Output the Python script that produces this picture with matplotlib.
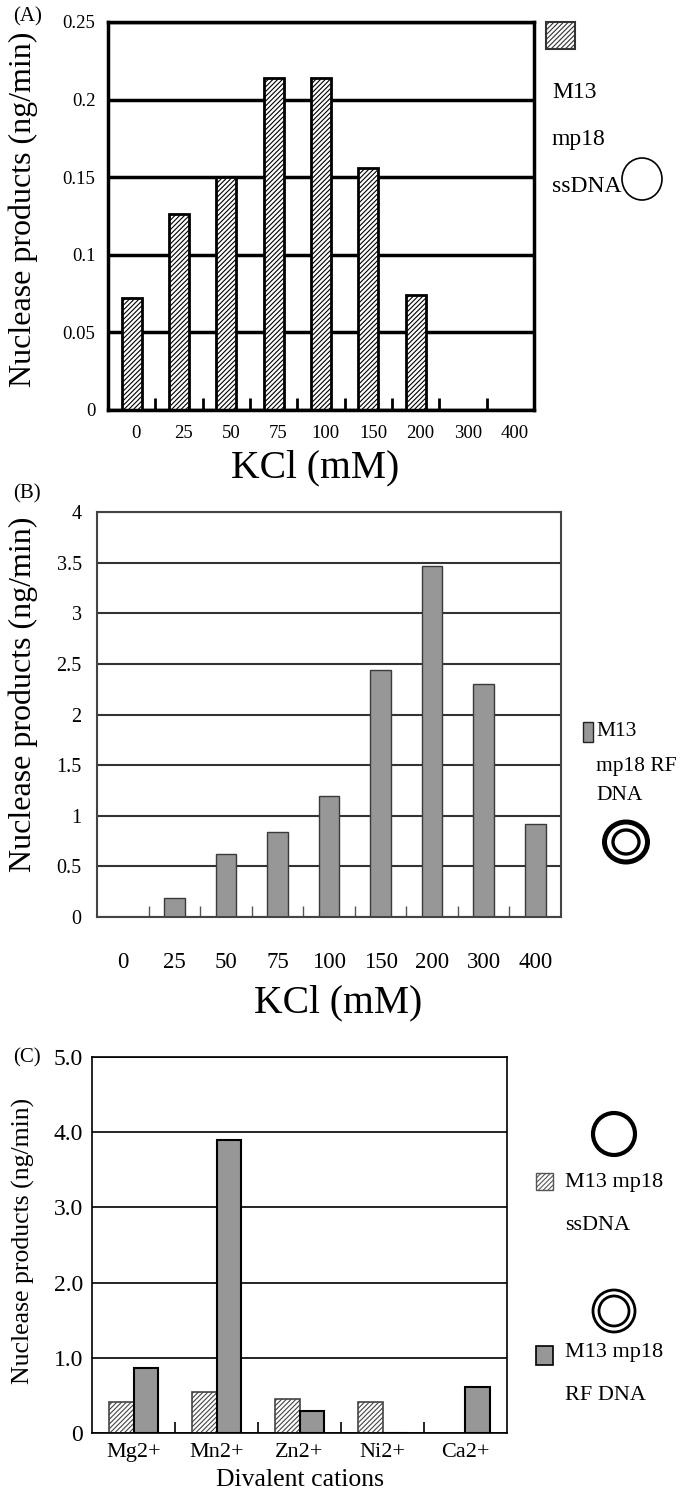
import numpy as np
import matplotlib
matplotlib.use("Agg")
import matplotlib.pyplot as plt
from matplotlib.patches import Rectangle, Ellipse

plt.rcParams['font.family'] = ['Liberation Serif', 'DejaVu Serif']
plt.rcParams['hatch.linewidth'] = 0.8

# data
kcl_labels = ['0', '25', '50', '75', '100', '150', '200', '300', '400']
ss_kcl = [0.072, 0.126, 0.150, 0.214, 0.214, 0.156, 0.074, 0.0, 0.0]
rf_kcl = [0.0, 0.19, 0.62, 0.84, 1.20, 2.44, 3.47, 2.30, 0.92]

cations = ['Mg2+', 'Mn2+', 'Zn2+', 'Ni2+', 'Ca2+']
ss_cat = [0.41, 0.55, 0.45, 0.41, 0.0]
rf_cat = [0.86, 3.90, 0.29, 0.0, 0.61]

W, H = 682, 1491
fig = plt.figure(figsize=(W / 100, H / 100), dpi=100)


def axes_px(left, top, right, bottom):
    return fig.add_axes([left / W, 1 - bottom / H, (right - left) / W, (bottom - top) / H])


def category_ticks(ax, n, length, width, color):
    ax.set_xlim(-0.5, n - 0.5)
    ax.set_xticks(np.arange(0.5, n - 1, 1))
    ax.set_xticklabels([])
    ax.tick_params(axis='x', which='major', direction='in', length=length, width=width,
                   color=color, top=False)
    ax.tick_params(axis='y', length=0)


# ---------- (A) ----------
axA = axes_px(108, 22, 534, 410)
x = np.arange(len(kcl_labels))
axA.bar(x, ss_kcl, width=0.42, color='white', edgecolor='black', linewidth=2, hatch='///////')
axA.set_ylim(0, 0.25)
axA.set_yticks([0, 0.05, 0.1, 0.15, 0.2, 0.25])
axA.set_yticklabels(['0', '0.05', '0.1', '0.15', '0.2', '0.25'], fontsize=13.5)
axA.set_axisbelow(True)
axA.yaxis.grid(True, color='black', linewidth=2.5)
category_ticks(axA, len(kcl_labels), 9, 2, 'black')
axA.set_xticks(x + 0.1, minor=True)
axA.set_xticklabels(kcl_labels, minor=True, fontsize=13.5)
axA.tick_params(axis='x', which='minor', length=0, pad=11)
axA.tick_params(axis='y', pad=9)
for s in axA.spines.values():
    s.set_linewidth(2.5)
axA.set_xlabel('KCl (mM)', fontsize=28.5, va='center')
axA.xaxis.set_label_coords(0.486, -0.149)
axA.set_ylabel('Nuclease products (ng/min)', fontsize=23, va='center')
axA.yaxis.set_label_coords(-0.20, 0.518)

# ---------- (B) ----------
axB = axes_px(97, 512, 561, 917)
axB.bar(x, rf_kcl, width=0.40, color='#979797', edgecolor='#3a3a3a', linewidth=1.0)
axB.set_ylim(0, 4)
axB.set_yticks(np.arange(0, 4.01, 0.5))
axB.set_yticklabels(['0', '0.5', '1', '1.5', '2', '2.5', '3', '3.5', '4'], fontsize=14.5)
axB.set_axisbelow(True)
axB.yaxis.grid(True, color='#333333', linewidth=1.5)
category_ticks(axB, len(kcl_labels), 8, 1, '#555555')
axB.set_xticks(x, minor=True)
axB.set_xticklabels(kcl_labels, minor=True, fontsize=16.5)
axB.tick_params(axis='x', which='minor', length=0, pad=25)
axB.tick_params(axis='y', pad=11)
for s in axB.spines.values():
    s.set_linewidth(1.5)
    s.set_color('#444444')
axB.set_xlabel('KCl (mM)', fontsize=28.5, va='center')
axB.xaxis.set_label_coords(0.52, -0.212)
axB.set_ylabel('Nuclease products (ng/min)', fontsize=23, va='center')
axB.yaxis.set_label_coords(-0.159, 0.55)

# ---------- (C) ----------
axC = axes_px(92, 1057, 507, 1433)
xc = np.arange(len(cations))
bw = 0.29
axC.bar(xc - bw / 2, ss_cat, width=bw, color='white', edgecolor='#444444', linewidth=1.2,
        hatch='///////')
axC.bar(xc + bw / 2, rf_cat, width=bw, color='#979797', edgecolor='black', linewidth=1.5)
axC.set_ylim(0, 5)
axC.set_yticks([0, 1, 2, 3, 4, 5])
axC.set_yticklabels(['0', '1.0', '2.0', '3.0', '4.0', '5.0'], fontsize=17)
axC.set_axisbelow(True)
axC.yaxis.grid(True, color='black', linewidth=1.2)
category_ticks(axC, len(cations), 8, 1.2, 'black')
axC.set_xticks(xc, minor=True)
axC.set_xticklabels(cations, minor=True, fontsize=16)
axC.tick_params(axis='x', which='minor', length=0, pad=7)
axC.tick_params(axis='y', pad=6.5)
for s in axC.spines.values():
    s.set_linewidth(1.2)
axC.set_xlabel('Divalent cations', fontsize=18.5, va='center')
axC.xaxis.set_label_coords(0.50, -0.125)
axC.set_ylabel('Nuclease products (ng/min)', fontsize=18.5, va='center')
axC.yaxis.set_label_coords(-0.164, 0.51)

# ---------- overlay for panel letters and legends (pixel coordinates) ----------
ov = fig.add_axes([0, 0, 1, 1], zorder=10)
ov.set_xlim(0, W)
ov.set_ylim(H, 0)
ov.axis('off')
ov.patch.set_alpha(0)

for lab, yy in [('(A)', 17), ('(B)', 494), ('(C)', 1058)]:
    ov.text(13, yy, lab, fontsize=15, va='center', ha='left')

# legend A
ov.add_patch(Rectangle((546, 22), 29, 27, facecolor='white', edgecolor='#333333',
                       linewidth=1.5, hatch='///////'))
for txt, yy in [('M13', 93), ('mp18', 140), ('ssDNA', 187)]:
    ov.text(552, yy, txt, fontsize=17, va='center', ha='left')
ov.add_patch(Ellipse((642, 179), 40, 42, fill=False, edgecolor='black', linewidth=1.2))

# legend B
ov.add_patch(Rectangle((583, 722), 10, 20, facecolor='#979797', edgecolor='#222222', linewidth=1))
for txt, yy in [('M13', 732), ('mp18 RF', 767), ('DNA', 795)]:
    ov.text(596, yy, txt, fontsize=15.5, va='center', ha='left')
ov.add_patch(Ellipse((626, 842), 43, 40, fill=False, edgecolor='black', linewidth=3.6))
ov.add_patch(Ellipse((626, 842), 26, 24, fill=False, edgecolor='black', linewidth=2.4))

# legend C
ov.add_patch(Ellipse((614, 1134), 42, 42, fill=False, edgecolor='black', linewidth=3))
ov.add_patch(Rectangle((536, 1173), 17, 17, facecolor='white', edgecolor='#555555',
                       linewidth=1, hatch='///////'))
ov.text(565, 1182, 'M13 mp18', fontsize=16, va='center', ha='left')
ov.text(565, 1225, 'ssDNA', fontsize=16, va='center', ha='left')
ov.add_patch(Ellipse((614, 1311), 42, 42, fill=False, edgecolor='black', linewidth=2))
ov.add_patch(Ellipse((614, 1311), 30, 30, fill=False, edgecolor='black', linewidth=2))
ov.add_patch(Rectangle((536, 1346), 17, 19, facecolor='#979797', edgecolor='black', linewidth=1.2))
ov.text(565, 1352, 'M13 mp18', fontsize=16, va='center', ha='left')
ov.text(565, 1395, 'RF DNA', fontsize=16, va='center', ha='left')

fig.savefig('out.png', dpi=100)
